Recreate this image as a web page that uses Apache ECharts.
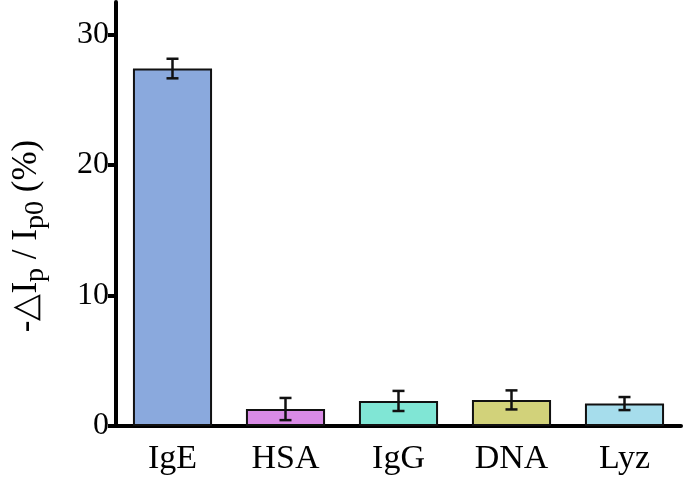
<!DOCTYPE html>
<html>
<head>
<meta charset="utf-8">
<script src="https://cdn.jsdelivr.net/npm/echarts@6/dist/echarts.min.js"></script>
<style>
  html, body { margin: 0; padding: 0; background: #fff; }
  #main { width: 685px; height: 477px; }
</style>
</head>
<body>
<div id="main"></div>
<script>
// data
const categories = ["IgE", "HSA", "IgG", "DNA", "Lyz"];
const values = [27.4, 1.3, 1.92, 2.0, 1.72];
const errors = [0.75, 0.85, 0.77, 0.73, 0.5];
const barColors = ["#8aa9dd", "#d98be6", "#80e6d5", "#d2d27a", "#a6ddec"];
const yTicks = [0, 10, 20, 30];

const font = "Liberation Serif";

let myChart = echarts.init(document.getElementById("main"));

// error bar data: [index, low, high]
let errData = values.map((v, i) => [i, v - errors[i], v + errors[i]]);

let option = {
  animation: false,
  grid: { left: 116, right: 4, top: 2, bottom: 51 },
  xAxis: {
    type: "category",
    data: categories,
    axisLine: { lineStyle: { color: "#000", width: 4 } },
    axisTick: { alignWithLabel: true, length: 8, lineStyle: { color: "#000", width: 4 } },
    axisLabel: { color: "#000", fontFamily: font, fontSize: 34, margin: 16 }
  },
  yAxis: {
    type: "value",
    min: 0,
    max: 32.5,
    interval: 10,
    splitLine: { show: false },
    axisLine: { show: true, lineStyle: { color: "#000", width: 4 } },
    axisTick: { show: true, length: 8, lineStyle: { color: "#000", width: 4 } },
    axisLabel: {
      color: "#000", fontFamily: font, fontSize: 32, margin: 7,
      showMaxLabel: false,
      formatter: v => (yTicks.indexOf(v) >= 0 ? String(v) : "")
    },
    name: "{t|-△I}{s|p}{t| / I}{s|p0}{t| (%)}",
    nameLocation: "middle",
    nameGap: 66,
    nameRotate: 90,
    nameTextStyle: {
      padding: [0, 44, 0, 0],
      rich: {
        t: { fontFamily: font, fontSize: 35, color: "#000" },
        s: { fontFamily: font, fontSize: 28, color: "#000", verticalAlign: "bottom", padding: [18, 0, 0, 0] }
      }
    }
  },
  series: [
    {
      type: "bar",
      barWidth: "70%",
      data: values.map((v, i) => ({
        value: v,
        itemStyle: { color: barColors[i], borderColor: "#111", borderWidth: 2 }
      }))
    },
    {
      type: "custom",
      z: 10,
      data: errData,
      renderItem: function (params, api) {
        let i = api.value(0);
        let lo = api.coord([i, api.value(1)]);
        let hi = api.coord([i, api.value(2)]);
        let half = 6;
        let style = { stroke: "#111", lineWidth: 2.5 };
        return {
          type: "group",
          children: [
            { type: "line", shape: { x1: lo[0], y1: lo[1], x2: hi[0], y2: hi[1] }, style: style },
            { type: "line", shape: { x1: hi[0] - half, y1: hi[1], x2: hi[0] + half, y2: hi[1] }, style: style },
            { type: "line", shape: { x1: lo[0] - half, y1: lo[1], x2: lo[0] + half, y2: lo[1] }, style: style }
          ]
        };
      }
    }
  ]
};

myChart.setOption(option);
</script>
</body>
</html>
